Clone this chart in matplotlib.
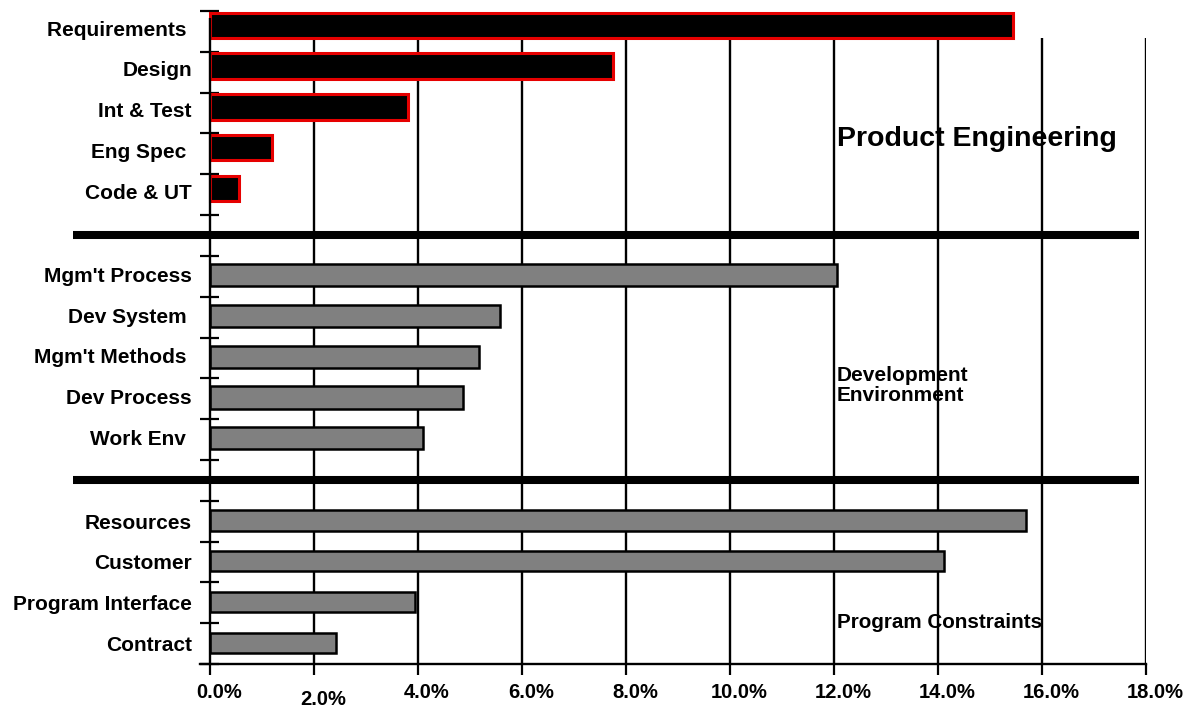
import numpy as np
import matplotlib.pyplot as plt
from matplotlib.transforms import ScaledTranslation

plt.rcParams['font.family'] = ['Liberation Sans', 'DejaVu Sans']
plt.rcParams['font.weight'] = 'bold'

# Product Engineering
pe_labels = ["Requirements ", "Design", "Int & Test", "Eng Spec ", "Code & UT"]
pe_values = [15.45, 7.75, 3.81, 1.2, 0.55]
# Development Environment
de_labels = ["Mgm't Process", "Dev System ", "Mgm't Methods ", "Dev Process", "Work Env "]
de_values = [12.05, 5.58, 5.18, 4.86, 4.1]
# Program Constraints
pc_labels = ["Resources", "Customer", "Program Interface", "Contract"]
pc_values = [15.7, 14.12, 3.95, 2.42]

section_names = ["Product Engineering", "Development\nEnvironment", "Program Constraints"]
xticks = np.arange(0, 19, 2)
xlabels = ["%.1f%%" % v for v in xticks]

# slot layout: each section gets one slot per bar, one empty slot between sections
pe_slot = np.arange(len(pe_labels)) + 0
de_slot = np.arange(len(de_labels)) + len(pe_labels) + 1
pc_slot = np.arange(len(pc_labels)) + de_slot[-1] + 2
n_slots = pc_slot[-1] + 1

fig = plt.figure(figsize=(11.91, 7.08), dpi=100)
ax = fig.add_axes([0.16759, 0.062147, 0.79463, 0.922316])
ax.set_xlim(-0.2, 18)
ax.set_ylim(n_slots, 0)

ax.barh(pe_slot + 0.35, pe_values, height=0.62, color='black',
        edgecolor='#e60000', linewidth=2.2, zorder=3)
ax.barh(de_slot + 0.47, de_values, height=0.54, color='#808080',
        edgecolor='black', linewidth=1.8, zorder=3)
ax.barh(pc_slot + 0.48, pc_values, height=0.5, color='#808080',
        edgecolor='black', linewidth=1.8, zorder=3)

# vertical grid starts under the first bar
ax.vlines(xticks[1:], pe_slot[0] + 0.35 + 0.31, n_slots, colors='black', lw=1.7, zorder=1)
# y axis line at 0
ax.vlines(0, 0.17, n_slots, colors='black', lw=1.7, zorder=4)

# thick section separators
seps = [(pe_slot[-1] + 1 + de_slot[0]) / 2, (de_slot[-1] + 1 + pc_slot[0]) / 2]
ax.hlines(seps, -2.63, 17.87, colors='black', lw=5.8, clip_on=False, zorder=5)

for s in ['top', 'right', 'left']:
    ax.spines[s].set_visible(False)
ax.spines['bottom'].set_linewidth(1.7)

# category labels
ypos = list(pe_slot + 0.42) + list(de_slot + 0.45) + list(pc_slot + 0.5)
ax.set_yticks(ypos)
ax.set_yticklabels(pe_labels + de_labels + pc_labels, fontsize=15)
ax.tick_params(axis='y', which='major', length=0, pad=5.5)
bounds = list(range(pe_slot[0], pe_slot[-1] + 2)) + \
    list(range(de_slot[0], de_slot[-1] + 2)) + list(range(pc_slot[0], pc_slot[-1] + 2))
ax.set_yticks(bounds, minor=True)
ax.tick_params(axis='y', which='minor', direction='in', length=13.7, width=1.6)

ax.set_xticks(xticks)
ax.set_xticklabels(xlabels, fontsize=14.5)
ax.tick_params(axis='x', direction='out', length=8, width=1.6, pad=5.5)
for i, lab in enumerate(ax.get_xticklabels()):
    dy = -0.07 if i == 1 else 0
    lab.set_transform(lab.get_transform() + ScaledTranslation(0.09, dy, fig.dpi_scale_trans))

ax.text(12.05, 3.14, section_names[0], fontsize=20.5, va='center', ha='left')
ax.text(12.05, 9.17, section_names[1], fontsize=15, va='center', ha='left', linespacing=1.05)
ax.text(12.05, 14.98, section_names[2], fontsize=14.9, va='center', ha='left')

fig.savefig('out.png', dpi=100)
